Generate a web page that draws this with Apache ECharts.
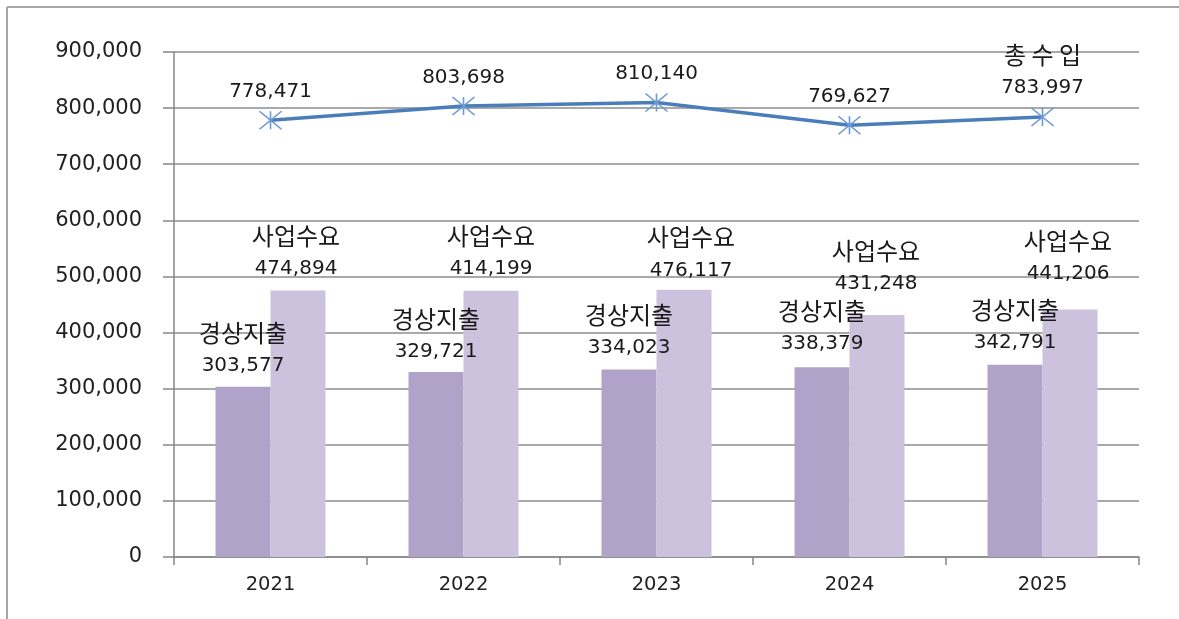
<!DOCTYPE html>
<html>
<head>
<meta charset="utf-8">
<script src="https://cdn.jsdelivr.net/npm/echarts@6/dist/echarts.min.js"></script>
<style>
html,body{margin:0;padding:0;background:#fff;}
#chart{width:1179px;height:619px;}
</style>
</head>
<body>
<div id="chart"></div>
<script>
// ---- data ----
const years = ['2021', '2022', '2023', '2024', '2025'];
const totalIncome = [778471, 803698, 810140, 769627, 783997];
const currentExpense = [303577, 329721, 334023, 338379, 342791];
// bar heights as drawn in the picture
const businessDemandBars = [474894, 474500, 476117, 431248, 441206];
// value labels as printed in the picture
const businessDemandLabels = ['474,894', '414,199', '476,117', '431,248', '441,206'];
const yTicks = [0, 100000, 200000, 300000, 400000, 500000, 600000, 700000, 800000, 900000];
const nameTotal = '총 수 입';
const nameExpense = '경상지출';
const nameDemand = '사업수요';

// ---- styling / layout (not data) ----
const numFont = 'DejaVu Sans';
const krFont = 'Noto Sans CJK KR';
const expenseDist = [4, 4, 5, 7, 5];
const demandDist = [5, 5, 3, 15, 19];
const demandOffsetX = [-2, 0, 7, -1, -2];

const fmt = v => Number(v).toLocaleString('en-US');

const chart = echarts.init(document.getElementById('chart'), null, {renderer: 'canvas'});

const mkRich = (lh) => ({
  k: {fontFamily: krFont, fontSize: 24, color: '#1a1a1a', lineHeight: 33, align: 'center'},
  n: {fontFamily: numFont, fontSize: 20, color: '#1a1a1a', lineHeight: lh, align: 'center'}
});

const option = {
  animation: false,
  backgroundColor: '#ffffff',
  graphic: [
    {type: 'line', shape: {x1: 7, y1: 7, x2: 1179, y2: 7}, style: {stroke: '#a6a6a6', lineWidth: 2}},
    {type: 'line', shape: {x1: 7, y1: 7, x2: 7, y2: 619}, style: {stroke: '#a6a6a6', lineWidth: 2}}
  ],
  grid: {left: 174, right: 40, top: 52, bottom: 62, containLabel: false},
  xAxis: {
    type: 'category',
    data: years,
    boundaryGap: true,
    axisLine: {lineStyle: {color: '#868686', width: 1.5}},
    axisTick: {show: true, length: 8, inside: false, alignWithLabel: false, lineStyle: {color: '#868686', width: 1.5}},
    axisLabel: {fontFamily: numFont, fontSize: 19.5, color: '#222', margin: 18}
  },
  yAxis: {
    type: 'value',
    min: yTicks[0],
    max: yTicks[yTicks.length - 1],
    interval: yTicks[1] - yTicks[0],
    axisLine: {show: true, lineStyle: {color: '#868686', width: 1.5}},
    axisTick: {show: true, length: 11, inside: false, lineStyle: {color: '#868686', width: 1.5}},
    splitLine: {show: true, lineStyle: {color: '#8c8c8c', width: 1.5}},
    axisLabel: {fontFamily: numFont, fontSize: 21, color: '#222', margin: 32, formatter: v => fmt(v)}
  },
  series: [
    {
      name: nameExpense,
      type: 'bar',
      barWidth: 55,
      barGap: '0%',
      itemStyle: {color: '#b1a2c9'},
      data: currentExpense.map((v, i) => ({
        value: v,
        label: {distance: expenseDist[i]}
      })),
      label: {
        show: true,
        position: 'top',
        formatter: p => '{k|' + nameExpense + '}\n{n|' + fmt(p.value) + '}',
        rich: mkRich(33)
      },
      z: 2
    },
    {
      name: nameDemand,
      type: 'bar',
      barWidth: 55,
      barGap: '0%',
      itemStyle: {color: '#cdc2dd'},
      data: businessDemandBars.map((v, i) => ({
        value: v,
        label: {distance: demandDist[i], offset: [demandOffsetX[i], 0]}
      })),
      label: {
        show: true,
        position: 'top',
        formatter: p => '{k|' + nameDemand + '}\n{n|' + businessDemandLabels[p.dataIndex] + '}',
        rich: mkRich(33)
      },
      z: 2
    },
    {
      name: nameTotal,
      type: 'line',
      data: totalIncome.map((v, i) => {
        if (i === totalIncome.length - 1) {
          return {
            value: v,
            label: {
              distance: 3,
              formatter: p => '{k|' + nameTotal + '}\n{n|' + fmt(p.value) + '}',
              rich: mkRich(33)
            }
          };
        }
        return {value: v};
      }),
      lineStyle: {color: '#4a7ebb', width: 3.5},
      symbol: 'path://M0,0L22,18M22,0L0,18M11,0L11,18',
      symbolSize: [22, 18],
      itemStyle: {color: 'rgba(0,0,0,0)', borderColor: '#6f9bd6', borderWidth: 1.5},
      label: {
        show: true,
        position: 'top',
        distance: 9,
        formatter: p => '{n|' + fmt(p.value) + '}',
        rich: mkRich(20)
      },
      z: 5
    }
  ]
};

chart.setOption(option);
</script>
</body>
</html>
